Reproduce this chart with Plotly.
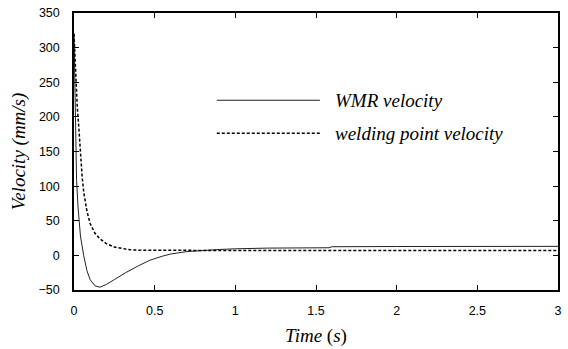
import plotly.graph_objects as go

t_wmr = [0, 0.004, 0.008, 0.012, 0.016, 0.025, 0.04, 0.06, 0.08, 0.1, 0.13, 0.16, 0.2, 0.25, 0.32, 0.4, 0.47, 0.55, 0.6, 0.7, 0.8, 0.9, 1.0, 1.2, 1.58, 1.6, 2.0, 2.5, 3.0]
v_wmr = [320, 260, 200, 150, 108, 70, 28, 0, -22, -35, -44, -46, -42, -35, -25, -15, -7, -1, 2, 5.5, 7.5, 8.5, 9.5, 10.5, 11, 12.5, 12.8, 13, 13]

t_weld = [0, 0.005, 0.01, 0.02, 0.03, 0.04, 0.05, 0.06, 0.08, 0.1, 0.13, 0.16, 0.2, 0.25, 0.3, 0.35, 0.4, 0.6, 1.0, 2.0, 3.0]
v_weld = [320, 295, 260, 215, 184, 145, 115, 92, 64, 46, 32, 24, 17, 12, 9.5, 8, 7.5, 7, 7, 7, 7]

x_ticks = [0, 0.5, 1, 1.5, 2, 2.5, 3]
y_ticks = [-50, 0, 50, 100, 150, 200, 250, 300, 350]

SERIF = "Times New Roman"
SANS = "Arial"

fig = go.Figure()
fig.add_trace(go.Scatter(x=t_wmr, y=v_wmr, mode="lines", line=dict(color="#222", width=1), showlegend=False))
fig.add_trace(go.Scatter(x=t_weld, y=v_weld, mode="lines", line=dict(color="#000", width=1.5, dash="3px,2px"), showlegend=False))

# manual legend
fig.add_shape(type="line", xref="paper", yref="paper", x0=0.295, x1=0.508, y0=0.685, y1=0.685, line=dict(color="#222", width=1))
fig.add_shape(type="line", xref="paper", yref="paper", x0=0.295, x1=0.508, y0=0.566, y1=0.566, line=dict(color="#000", width=1.5, dash="3px,2px"))
fig.add_annotation(xref="paper", yref="paper", x=0.535, y=0.685, text="<i>WMR velocity</i>", showarrow=False, xanchor="left", yanchor="middle",
                   font=dict(family=SERIF, size=19, color="black"))
fig.add_annotation(xref="paper", yref="paper", x=0.535, y=0.566, text="<i>welding point velocity</i>", showarrow=False, xanchor="left", yanchor="middle",
                   font=dict(family=SERIF, size=19, color="black"))

axis_common = dict(showline=True, linecolor="black", linewidth=1.5, mirror="ticks", ticks="inside", ticklen=5, tickcolor="black",
                   showgrid=False, zeroline=False, tickfont=dict(family=SANS, size=12.5, color="black"))
fig.update_xaxes(range=[0, 3], tickvals=x_ticks, ticktext=[str(v) for v in x_ticks], ticklabelstandoff=8,
                 title=dict(text="<i>Time</i> (<i>s</i>)", font=dict(family=SERIF, size=19, color="black"), standoff=12),
                 **axis_common)
fig.update_yaxes(range=[-50, 350], tickvals=y_ticks, ticklabelstandoff=10,
                 title=dict(text="<i>Velocity (mm/s)</i>", font=dict(family=SERIF, size=19, color="black"), standoff=8),
                 **axis_common)
fig.update_layout(width=568, height=349, margin=dict(l=74, r=6, t=11, b=59), plot_bgcolor="white", paper_bgcolor="white",
                  font=dict(family=SERIF))
fig.write_html("out.html")
